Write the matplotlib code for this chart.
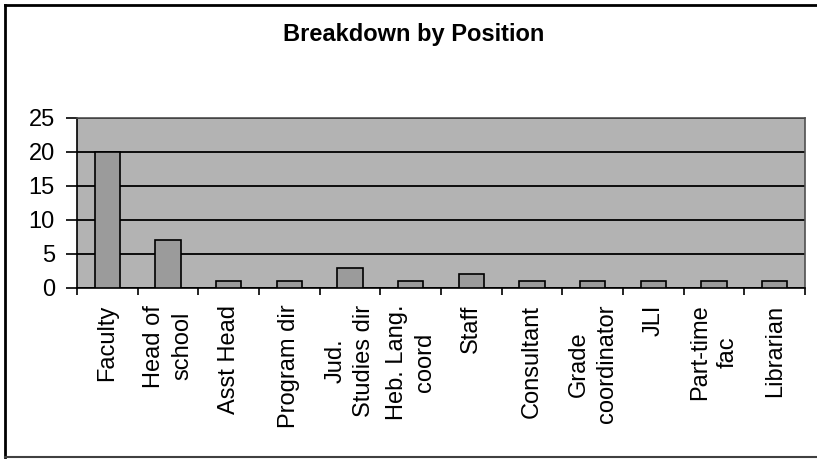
import matplotlib
matplotlib.use("Agg")
import matplotlib.pyplot as plt
from matplotlib.lines import Line2D
import numpy as np

categories = ["Faculty", "Head of\nschool", "Asst Head", "Program dir", "Jud.\nStudies dir",
              "Heb. Lang.\ncoord", "Staff", "Consultant", "Grade\ncoordinator", "JLI",
              "Part-time\nfac", "Librarian"]
values = [20, 7, 1, 1, 3, 1, 2, 1, 1, 1, 1, 1]
yticks = [0, 5, 10, 15, 20, 25]
title = "Breakdown by Position"

plt.rcParams['font.family'] = ['Liberation Sans', 'DejaVu Sans']

W, H = 817, 459
fig = plt.figure(figsize=(W / 100, H / 100), dpi=100)
fig.patch.set_facecolor('white')

L, R, T, B = 77, 805, 118, 288
ax = fig.add_axes([L / W, 1 - B / H, (R - L) / W, (B - T) / H])
ax.set_facecolor('#b3b3b3')

x = np.arange(len(categories))
ax.set_axisbelow(True)
ax.yaxis.grid(True, color='black', linewidth=1.3)
ax.bar(x, values, width=0.42, color='#9b9b9b', edgecolor='black', linewidth=1.2, zorder=3)

ax.set_xlim(-0.5, len(categories) - 0.5)
ax.set_ylim(0, 25)
ax.set_yticks(yticks)
ax.set_xticks(x)
ax.set_xticklabels(categories, rotation=90, ha='center', va='top', multialignment='center',
                   fontsize=17, linespacing=1.35)
ax.set_xticks(np.arange(-0.5, len(categories), 1), minor=True)
ax.tick_params(axis='x', which='major', length=0, pad=12)
ax.tick_params(axis='x', which='minor', length=5, width=1.2, direction='out')
ax.tick_params(axis='y', length=8, width=1.2, direction='out', pad=8, labelsize=17)

for s in ['left', 'bottom']:
    ax.spines[s].set_color('black')
    ax.spines[s].set_linewidth(1.2)
for s in ['top', 'right']:
    ax.spines[s].set_color('#505050')
    ax.spines[s].set_linewidth(1.2)

fig.text(414 / W, 1 - 35 / H, title, ha='center', va='center', fontsize=17, fontweight='bold')

# outer frame
fig.add_artist(Line2D([5 / W, 5 / W], [1 - 5 / H, 1 - 457 / H], color='black', linewidth=2, transform=fig.transFigure))
fig.add_artist(Line2D([5 / W, 1], [1 - 5 / H, 1 - 5 / H], color='black', linewidth=2, transform=fig.transFigure))
fig.add_artist(Line2D([5 / W, 1], [1 - 457 / H, 1 - 457 / H], color='#404040', linewidth=1.5, transform=fig.transFigure))

fig.savefig("out.png", dpi=100)
